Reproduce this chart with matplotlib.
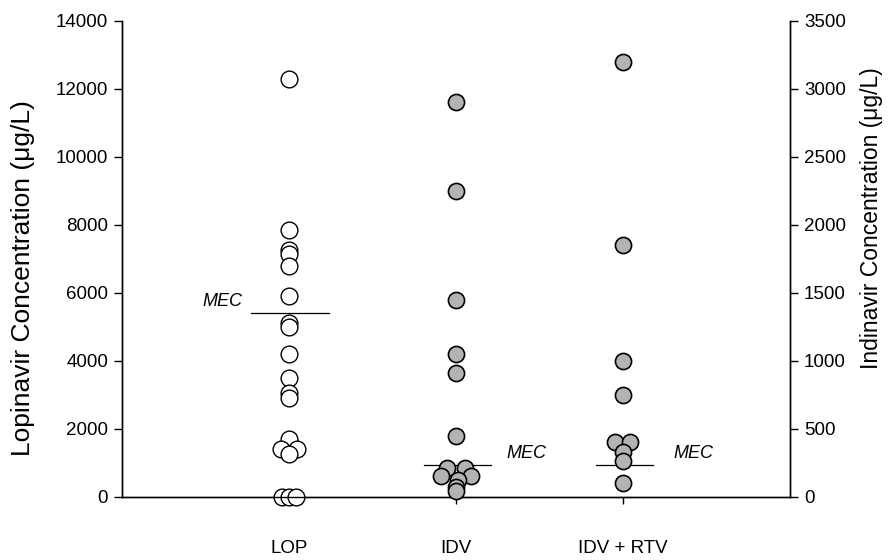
import matplotlib
matplotlib.use("Agg")
import matplotlib.pyplot as plt

plt.rcParams['font.family'] = ['Liberation Sans', 'DejaVu Sans']

# ---- data ----
categories = ["LOP", "IDV", "IDV + RTV"]

lop_values = [12300, 7850, 7250, 7150, 6800, 5900, 5100, 5000, 4200, 3500,
              3050, 2900, 1700, 1400, 1400, 1250, 0, 0, 0]
lop_offsets = [0, 0, 0, 0, 0, 0, 0, 0, 0, 0,
               0, 0, 0, -0.045, 0.045, 0, -0.04, 0, 0.04]

idv_values = [2900, 2250, 1450, 1050, 910, 450, 210, 210, 150, 150, 120, 75, 40]
idv_offsets = [0, 0, 0, 0, 0, 0, -0.054, 0.054, -0.09, 0.09, 0.01, 0, 0]

rtv_values = [3200, 1850, 1000, 750, 400, 400, 330, 260, 100]
rtv_offsets = [0, 0, 0, 0, -0.045, 0.045, 0, 0, 0]

mec_lop = 5400
mec_idv = 230
mec_rtv = 230

left_ticks = [0, 2000, 4000, 6000, 8000, 10000, 12000, 14000]
right_ticks = [0, 500, 1000, 1500, 2000, 2500, 3000, 3500]

# ---- figure ----
fig = plt.figure(figsize=(8.88, 5.6), dpi=100)
ax = fig.add_axes([0.1374, 0.113, 0.7522, 0.850])
ax2 = ax.twinx()

ax.set_xlim(0, 4)
ax.set_ylim(0, 14000)
ax2.set_ylim(0, 3500)

ms = 145
gray = '#b3b3b3'

ax.scatter([1 + o for o in lop_offsets], lop_values, s=ms, facecolor='white',
           edgecolor='black', linewidth=1.0, zorder=3, clip_on=False)
ax2.scatter([2 + o for o in idv_offsets], idv_values, s=ms - 10, facecolor=gray,
            edgecolor='black', linewidth=1.2, zorder=3, clip_on=False)
ax2.scatter([3 + o for o in rtv_offsets], rtv_values, s=ms - 10, facecolor=gray,
            edgecolor='black', linewidth=1.2, zorder=3, clip_on=False)

# MEC lines
ax.plot([0.775, 1.24], [mec_lop, mec_lop], color='black', lw=0.9, zorder=2)
ax2.plot([1.81, 2.21], [mec_idv, mec_idv], color='black', lw=0.9, zorder=2)
ax2.plot([2.84, 3.18], [mec_rtv, mec_rtv], color='black', lw=0.9, zorder=2)

ax.text(0.72, 5750, "MEC", style='italic', fontsize=13, ha='right', va='center')
ax2.text(2.305, 317, "MEC", style='italic', fontsize=13, ha='left', va='center')
ax2.text(3.30, 317, "MEC", style='italic', fontsize=13, ha='left', va='center')

# axes styling
for a in (ax, ax2):
    a.spines['top'].set_visible(False)
    for s in a.spines.values():
        s.set_linewidth(1.0)

ax.set_yticks(left_ticks)
ax.set_yticklabels([str(t) for t in left_ticks])
ax2.set_yticks(right_ticks)
ax2.set_yticklabels([str(t) for t in right_ticks])

ax.set_xticks([1, 2, 3])
ax.set_xticklabels(categories)
ax.tick_params(axis='x', direction='out', length=5, width=1.0, pad=26, labelsize=13.5)
ax.tick_params(axis='y', direction='out', length=6, width=1.0, pad=4, labelsize=13.5)
ax2.tick_params(axis='y', direction='out', length=6, width=1.0, pad=4, labelsize=13.5)

ax.set_ylabel("Lopinavir Concentration (μg/L)", fontsize=19)
ax.yaxis.set_label_coords(-0.13, 0.46)
ax2.set_ylabel("Indinavir Concentration (μg/L)", fontsize=16.5, rotation=90)
ax2.yaxis.set_label_coords(1.105, 0.585)

fig.savefig("out.png", dpi=100)
